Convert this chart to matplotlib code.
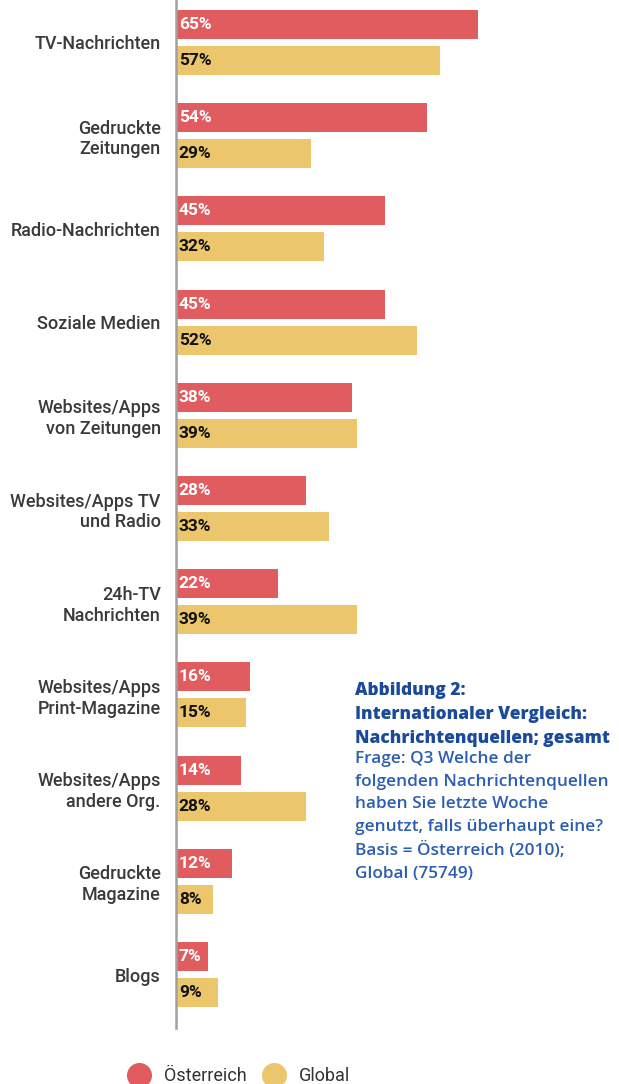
import matplotlib.pyplot as plt
import numpy as np
from matplotlib.lines import Line2D

plt.rcParams['font.family'] = ['Roboto', 'DejaVu Sans']

categories = ["TV-Nachrichten", "Gedruckte\nZeitungen", "Radio-Nachrichten",
              "Soziale Medien", "Websites/Apps\nvon Zeitungen",
              "Websites/Apps TV\nund Radio", "24h-TV\nNachrichten",
              "Websites/Apps\nPrint-Magazine", "Websites/Apps\nandere Org.",
              "Gedruckte\nMagazine", "Blogs"]
oesterreich = [65, 54, 45, 45, 38, 28, 22, 16, 14, 12, 7]
global_vals = [57, 29, 32, 52, 39, 33, 39, 15, 28, 8, 9]

red = '#E05C5E'
yellow = '#EBC66C'

fig = plt.figure(figsize=(6.19, 10.84), dpi=100)
ax = fig.add_axes([176 / 619, 1 - 1028 / 1084, 1 - 176 / 619, 1028 / 1084])

y = np.arange(len(categories))
off = 0.193
h = 0.311
ax.barh(y - off, oesterreich, height=h, color=red)
ax.barh(y + off, global_vals, height=h, color=yellow)

for yi, v in zip(y, oesterreich):
    ax.text(0.6, yi - off, f"{v}%", color='white', fontsize=12.5, fontweight='semibold',
            va='center', ha='left')
for yi, v in zip(y, global_vals):
    ax.text(0.6, yi + off, f"{v}%", color='#111111', fontsize=12.5, fontweight='semibold',
            va='center', ha='left')

ax.set_xlim(0, 443 / 4.64)
ax.set_ylim(10.574, -0.456)
ax.set_yticks(y)
ax.set_yticklabels(categories, fontsize=13, color='#3a3a3a', fontweight='medium',
                   linespacing=1.2)
ax.tick_params(axis='y', length=0, pad=11)
ax.set_xticks([])
for s in ['top', 'right', 'bottom']:
    ax.spines[s].set_visible(False)
ax.spines['left'].set_color('#a0a0a0')
ax.spines['left'].set_linewidth(1.8)

# note block
fig.text(355 / 619, 1 - 682 / 1084,
         "Abbildung 2:\nInternationaler Vergleich:\nNachrichtenquellen; gesamt",
         color='#1B4A9A', fontsize=12.4, fontweight='heavy', va='top', ha='left',
         linespacing=1.55, family=['Open Sans', 'DejaVu Sans'])
fig.text(355 / 619, 1 - 751 / 1084,
         "Frage: Q3 Welche der\nfolgenden Nachrichtenquellen\nhaben Sie letzte Woche\n"
         "genutzt, falls überhaupt eine?\nBasis = Österreich (2010);\nGlobal (75749)",
         color='#2B5DB3', fontsize=12.4, fontweight='semibold', va='top', ha='left',
         linespacing=1.55, family=['Open Sans', 'DejaVu Sans'])

handles = [Line2D([], [], marker='o', linestyle='', markersize=17, color=red),
           Line2D([], [], marker='o', linestyle='', markersize=17, color=yellow)]
fig.legend(handles, ['Österreich', 'Global'], loc='center', ncol=2,
           bbox_to_anchor=(239 / 619, 1 - 1076 / 1084), frameon=False,
           fontsize=13, labelcolor='#333333', handletextpad=0.8, columnspacing=0.9,
           handlelength=1.2)

fig.savefig('out.png', dpi=100)
